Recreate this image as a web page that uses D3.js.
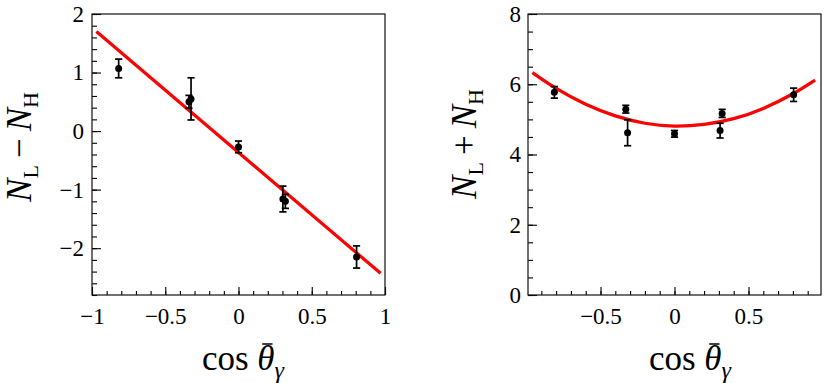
<!DOCTYPE html>
<html><head><meta charset="utf-8">
<script src="https://cdn.jsdelivr.net/npm/d3@7"></script>
<style>
body{margin:0;background:#fff}
svg text{font-family:"Liberation Serif","Times New Roman",Times,"DejaVu Serif",serif !important;}
</style>
</head><body>
<svg id="c" width="830" height="383"></svg>
<script>
// ---- Left panel: N_L - N_H vs cos(theta_gamma) ----
const diffX   = [-0.818, -0.338, -0.324, 0.000, 0.303, 0.320, 0.806];
const diffY   = [ 1.07,   0.50,   0.55,  -0.27, -1.16, -1.20, -2.15];
const diffErr = [ 0.16,   0.11,   0.36,   0.10,  0.22,  0.12,  0.19];
const diffFitX = [-0.97, 0.97];
const diffFitY = [ 1.70, -2.43];
const leftXTicks = [-1, -0.5, 0, 0.5, 1];
const leftYTicks = [-2, -1, 0, 1, 2];

// ---- Right panel: N_L + N_H vs cos(theta_gamma) ----
const sumX   = [-0.812, -0.329, -0.317, 0.000, 0.308, 0.322, 0.805];
const sumY   = [ 5.77,   5.29,   4.62,  4.59,  4.68,  5.17,  5.70];
const sumErr = [ 0.165,  0.11,   0.37,  0.095, 0.21,  0.115, 0.19];
const sumFitX = [-0.96, -0.8, -0.6, -0.4, -0.2, 0.0, 0.2, 0.4, 0.6, 0.8, 0.95];
const sumFitY = [ 6.33,  5.88, 5.43, 5.10, 4.89, 4.81, 4.86, 5.02, 5.31, 5.73, 6.12];
const rightXTicks = [-0.5, 0, 0.5];
const rightYTicks = [0, 2, 4, 6, 8];

const FONT = '"Liberation Serif","Times New Roman",Times,"DejaVu Serif",serif';
const svg = d3.select("#c");
svg.append("rect").attr("width",830).attr("height",383).attr("fill","#fff");

const fmt = v => String(v).replace("-", "\u2212");

function panel(cfg){
  const x = d3.scaleLinear().domain(cfg.xDomain).range([cfg.left, cfg.right]);
  const y = d3.scaleLinear().domain(cfg.yDomain).range([cfg.bottom, cfg.top]);
  const g = svg.append("g");

  // minor ticks
  g.append("g").attr("transform",`translate(0,${cfg.bottom})`)
    .call(d3.axisBottom(x).tickValues(cfg.xMinor).tickSizeInner(-4).tickSizeOuter(0).tickFormat(""))
    .call(s=>s.select(".domain").remove());
  g.append("g").attr("transform",`translate(${cfg.left},0)`)
    .call(d3.axisLeft(y).tickValues(cfg.yMinor).tickSizeInner(-5).tickSizeOuter(0).tickFormat(""))
    .call(s=>s.select(".domain").remove());
  // major ticks
  const xa = g.append("g").attr("transform",`translate(0,${cfg.bottom})`)
    .call(d3.axisBottom(x).tickValues(cfg.xTicks).tickSizeInner(-8).tickSizeOuter(0).tickPadding(13).tickFormat(fmt));
  xa.select(".domain").remove();
  const ya = g.append("g").attr("transform",`translate(${cfg.left},0)`)
    .call(d3.axisLeft(y).tickValues(cfg.yTicks).tickSizeInner(-9).tickSizeOuter(0).tickPadding(cfg.yPad).tickFormat(fmt));
  ya.select(".domain").remove();
  g.selectAll("g").attr("font-family",FONT);
  g.selectAll(".tick line").attr("stroke","#000").attr("stroke-width",1.1);
  g.selectAll(".tick text").attr("font-family",FONT)
    .attr("font-size",23).attr("fill","#000");

  // frame
  g.append("rect").attr("x",cfg.left).attr("y",cfg.top)
    .attr("width",cfg.right-cfg.left).attr("height",cfg.bottom-cfg.top)
    .attr("fill","none").attr("stroke","#111").attr("stroke-width",1.2);

  // fit curve
  const fit = cfg.fitX.map((v,i)=>[v,cfg.fitY[i]]);
  g.append("path").datum(fit)
    .attr("d", d3.line().x(d=>x(d[0])).y(d=>y(d[1])).curve(d3.curveNatural))
    .attr("fill","none").attr("stroke","#ff0000").attr("stroke-width",3.2);

  // data
  const pts = cfg.px.map((v,i)=>({x:v,y:cfg.py[i],e:cfg.pe[i]}));
  const eg = g.append("g").attr("stroke","#000").attr("stroke-width",1.7);
  pts.forEach(p=>{
    const cx = x(p.x), y1 = y(p.y+p.e), y2 = y(p.y-p.e);
    eg.append("line").attr("x1",cx).attr("x2",cx).attr("y1",y1).attr("y2",y2);
    eg.append("line").attr("x1",cx-3.6).attr("x2",cx+3.6).attr("y1",y1).attr("y2",y1);
    eg.append("line").attr("x1",cx-3.6).attr("x2",cx+3.6).attr("y1",y2).attr("y2",y2);
  });
  g.selectAll("circle.pt").data(pts).enter().append("circle")
    .attr("cx",d=>x(d.x)).attr("cy",d=>y(d.y)).attr("r",3.5).attr("fill","#000");
}

panel({left:92,right:385,top:14,bottom:295,xDomain:[-1,1],yDomain:[-2.8,2],
  xTicks:leftXTicks,yTicks:leftYTicks,
  xMinor:d3.range(-10,11).map(v=>v/10),yMinor:d3.range(-14,11).map(v=>v/5),
  yPad:8,fitX:diffFitX,fitY:diffFitY,px:diffX,py:diffY,pe:diffErr});
panel({left:528,right:821,top:14,bottom:295,xDomain:[-0.99,0.99],yDomain:[0,8],
  xTicks:rightXTicks,yTicks:rightYTicks,
  xMinor:d3.range(-9,10).map(v=>v/10),yMinor:d3.range(0,17).map(v=>v/2),
  yPad:7,fitX:sumFitX,fitY:sumFitY,px:sumX,py:sumY,pe:sumErr});

// y titles
function yTitle(bx, cy, sign){
  const t = svg.append("text").attr("transform",`translate(${bx},${cy}) rotate(-90)`)
    .attr("font-family",FONT).attr("text-anchor","middle").attr("font-size",35).attr("fill","#000");
  t.append("tspan").attr("font-style","italic").text("N");
  t.append("tspan").attr("font-size",22).attr("dy",7).text("L");
  t.append("tspan").attr("dy",-7).text("\u2009" + sign + "\u2009");
  t.append("tspan").attr("font-style","italic").text("N");
  t.append("tspan").attr("font-size",22).attr("dy",7).text("H");
}
yTitle(31, 147, "\u2212");
yTitle(476, 144, "+");

// x titles
function xTitle(cx, base){
  const g = svg.append("g");
  const t = g.append("text").attr("y",base).attr("font-family",FONT).attr("font-size",35).attr("fill","#000");
  t.append("tspan").text("cos\u00a0");
  t.append("tspan").attr("font-style","italic").text("\u03b8");
  t.append("tspan").attr("font-style","italic").attr("font-size",24).attr("dy",8).text("\u03b3");
  const w = t.node().getComputedTextLength();
  t.attr("x", cx - w/2);
  const ext = t.node().getExtentOfChar(4);
  g.append("line").attr("x1",ext.x+ext.width*0.28).attr("x2",ext.x+ext.width*0.88)
    .attr("y1",base-26).attr("y2",base-26).attr("stroke","#000").attr("stroke-width",1.5);
}
xTitle(243, 370);
xTitle(690, 370);
</script>
</body></html>
